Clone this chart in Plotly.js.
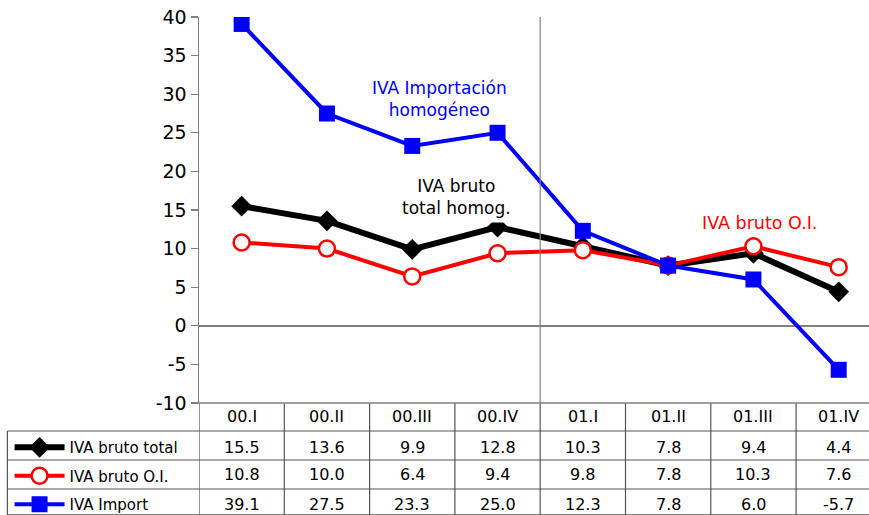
<!DOCTYPE html>
<html>
<head>
<meta charset="utf-8">
<script src="https://cdn.plot.ly/plotly-3.0.1.min.js"></script>
<style>
  html, body { margin: 0; padding: 0; background: #fff; }
  #chart { width: 869px; height: 515px; }
</style>
</head>
<body>
<div id="chart"></div>
<script>
// trimestres
const TRIMESTRES = ["00.I", "00.II", "00.III", "00.IV", "01.I", "01.II", "01.III", "01.IV"];

// series (tasas de variación)
const IVA_TOTAL = [15.5, 13.6, 9.9, 12.8, 10.3, 7.8, 9.4, 4.4];
const IVA_OI = [10.8, 10.0, 6.4, 9.4, 9.8, 7.8, 10.3, 7.6];
const IVA_IMPORT = [39.1, 27.5, 23.3, 25.0, 12.3, 7.8, 6.0, -5.7];

const NOMBRES = ["IVA bruto total", "IVA bruto O.I.", "IVA Import"];
const SERIES = [IVA_TOTAL, IVA_OI, IVA_IMPORT];

// eje vertical
const Y_TICKS = [-10, -5, 0, 5, 10, 15, 20, 25, 30, 35, 40];
const Y_LABELS = ["-10", "-5", "0", "5", "10", "15", "20", "25", "30", "35", "40"];

const FONT = "DejaVu Sans, Verdana, sans-serif";
const GRIS = "#808080";
const idx = TRIMESTRES.map((_, i) => i);

const data = [
  {
    x: idx, y: IVA_TOTAL, name: NOMBRES[0], legendgroup: "a",
    type: "scatter", mode: "lines+markers",
    line: {color: "#000000", width: 6},
    marker: {symbol: "diamond", size: 16, color: "#000000"}
  },
  {
    x: idx, y: IVA_OI, name: NOMBRES[1], legendgroup: "b",
    type: "scatter", mode: "lines+markers",
    line: {color: "#ff0000", width: 4},
    marker: {symbol: "circle", size: 16, color: "#ffffff", line: {color: "#ff0000", width: 2.5}}
  },
  {
    x: idx, y: IVA_IMPORT, name: NOMBRES[2], legendgroup: "c",
    type: "scatter", mode: "lines+markers",
    line: {color: "#0000ff", width: 4},
    marker: {symbol: "square", size: 16, color: "#0000ff"}
  }
];

// tabla de datos bajo el grafico
const filaY = [-0.114, -0.1865, -0.2617];
const lineasY = [-0.0725, -0.1477, -0.2228, -0.29];
const annotations = [];
const shapes = [];

TRIMESTRES.forEach((t, i) => {
  annotations.push({x: i, y: -0.036, xref: "x", yref: "paper", text: t, showarrow: false,
    xanchor: "center", yanchor: "middle",
    font: {family: FONT, size: 16, color: "#000"}});
  SERIES.forEach((s, j) => {
    annotations.push({x: i, y: filaY[j], xref: "x", yref: "paper", text: s[i].toFixed(1),
      showarrow: false, xanchor: "center", yanchor: "middle",
      font: {family: FONT, size: 16, color: "#000"}});
  });
});

// lineas de la tabla
for (let k = 0; k <= 8; k++) {
  shapes.push({type: "line", xref: "x", yref: "paper", x0: k - 0.5, x1: k - 0.5, y0: 0, y1: -0.3,
    line: {color: "#555", width: 1.2}});
}
lineasY.forEach(v => {
  shapes.push({type: "line", xref: "paper", yref: "paper", x0: -0.286, x1: 1.02, y0: v, y1: v,
    line: {color: "#555", width: 1.2}});
});
shapes.push({type: "line", xref: "paper", yref: "paper", x0: -0.286, x1: -0.286, y0: -0.0725, y1: -0.3,
  line: {color: "#555", width: 1.2}});
shapes.push({type: "line", xref: "paper", yref: "paper", x0: -0.01, x1: 1.02, y0: 0, y1: 0,
  line: {color: GRIS, width: 1.5}});
// separacion entre 2000 y 2001
shapes.push({type: "line", xref: "x", yref: "paper", x0: 3.5, x1: 3.5, y0: 0, y1: 1,
  line: {color: GRIS, width: 1.2}});

// etiquetas dentro del grafico
annotations.push(
  {x: 2.32, y: 29.4, xref: "x", yref: "y", text: "IVA Importación<br>homogéneo", showarrow: false,
    bgcolor: "#ffffff", borderpad: 3, font: {family: FONT, size: 17, color: "#0000ff"}},
  {x: 2.52, y: 16.7, xref: "x", yref: "y", text: "IVA bruto<br>total homog.", showarrow: false,
    bgcolor: "#ffffff", borderpad: 4, font: {family: FONT, size: 17, color: "#000000"}},
  {x: 6.07, y: 13.3, xref: "x", yref: "y", text: "IVA bruto O.I.", showarrow: false,
    font: {family: FONT, size: 17.5, color: "#ff0000"}}
);

const layout = {
  width: 869, height: 515,
  margin: {l: 199, r: 0, t: 17, b: 112},
  paper_bgcolor: "#ffffff", plot_bgcolor: "#ffffff",
  font: {family: FONT, color: "#000"},
  showlegend: true,
  legend: {
    xref: "container", yref: "container",
    x: 0.011, xanchor: "left", y: 0.163, yanchor: "top",
    font: {family: FONT, size: 15, color: "#000"},
    bgcolor: "rgba(0,0,0,0)", borderwidth: 0,
    traceorder: "grouped", tracegroupgap: 6, itemwidth: 50
  },
  xaxis: {
    range: [-0.5, 7.355], showgrid: false, zeroline: false,
    showticklabels: false, ticks: "", showline: false, fixedrange: true
  },
  yaxis: {
    range: [-10, 40], tickvals: Y_TICKS, ticktext: Y_LABELS, showgrid: false,
    zeroline: true, zerolinecolor: GRIS, zerolinewidth: 1.5,
    showline: true, linecolor: GRIS, linewidth: 1.5,
    ticks: "outside", ticklen: 7, tickcolor: GRIS, tickwidth: 1.2,
    tickfont: {family: FONT, size: 19, color: "#000"}
  },
  annotations: annotations,
  shapes: shapes
};

Plotly.newPlot("chart", data, layout, {displayModeBar: false, staticPlot: true});
</script>
</body>
</html>
